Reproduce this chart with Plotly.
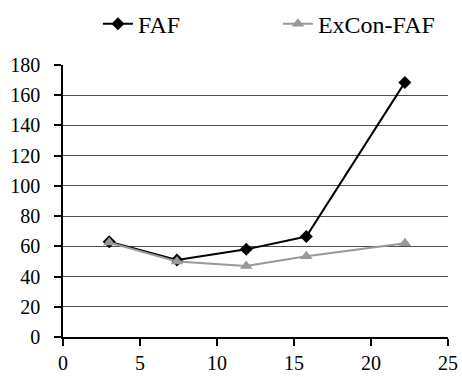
import plotly.graph_objects as go

# Measurements for the two methods
x_vals = [3.0, 7.4, 11.9, 15.8, 22.2]
faf = [63, 51, 58, 66.5, 168.5]
excon_faf = [62.5, 50, 47, 53.5, 62]

x_ticks = [0, 5, 10, 15, 20, 25]
y_ticks = [0, 20, 40, 60, 80, 100, 120, 140, 160, 180]

serif = "Times New Roman, Liberation Serif, serif"

fig = go.Figure()
fig.add_trace(go.Scatter(
    x=x_vals, y=faf, name="FAF", mode="lines+markers",
    line=dict(color="black", width=2),
    marker=dict(symbol="diamond", size=10, color="black"),
))
fig.add_trace(go.Scatter(
    x=x_vals, y=excon_faf, name="ExCon-FAF", mode="lines+markers",
    line=dict(color="#999999", width=2),
    marker=dict(symbol="triangle-up", size=11, color="#999999"),
))

fig.update_layout(
    width=462, height=377,
    margin=dict(l=63, r=14, t=65, b=40, autoexpand=False),
    paper_bgcolor="white", plot_bgcolor="white",
    font=dict(family=serif, size=20, color="black"),
    showlegend=True,
    legend=dict(
        orientation="h", x=0.212, y=0.936, xanchor="left", yanchor="middle",
        xref="container", yref="container",
        font=dict(family=serif, size=24, color="black"),
        entrywidth=135, entrywidthmode="pixels",
        bgcolor="rgba(0,0,0,0)", itemclick=False,
    ),
    xaxis=dict(
        range=[0, 25], tickvals=x_ticks, showgrid=False, zeroline=False,
        showline=True, linecolor="black", linewidth=1.5, automargin=False,
        ticks="outside", ticklen=7, tickcolor="black", tickwidth=1.5,
        tickfont=dict(family=serif, size=20, color="black"),
    ),
    yaxis=dict(
        range=[0, 180], tickvals=y_ticks, showgrid=True,
        gridcolor="#4d4d4d", gridwidth=1, zeroline=False,
        showline=True, linecolor="black", linewidth=1.5, automargin=False,
        ticks="outside", ticklen=7, tickcolor="black", tickwidth=1.5,
        ticklabelstandoff=10,
        tickfont=dict(family=serif, size=20, color="black"),
    ),
)

fig.write_html("out.html")
